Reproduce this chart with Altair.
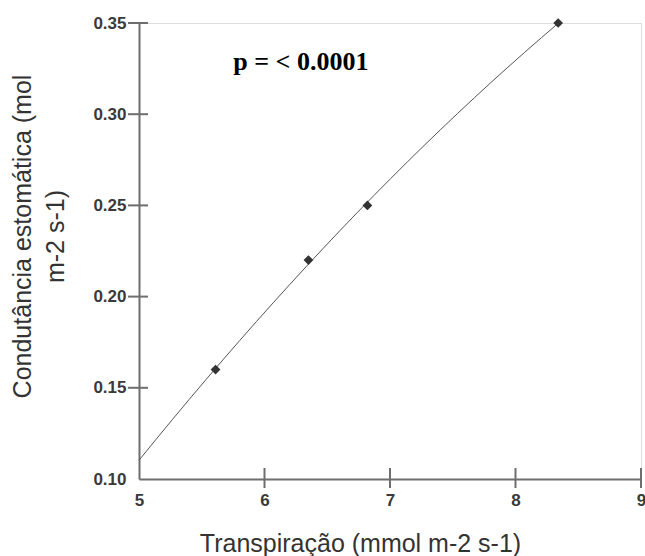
import altair as alt
import pandas as pd

# Measured points: transpiration vs stomatal conductance
transpiracao = [5.61, 6.35, 6.82, 8.34]
condutancia = [0.16, 0.22, 0.25, 0.35]

# Axis ranges and tick positions
x_domain = [5, 9]
y_domain = [0.10, 0.35]
x_tick_values = [5, 6, 7, 8, 9]
y_tick_values = [0.10, 0.15, 0.20, 0.25, 0.30, 0.35]
# Tick marks that are actually drawn (the corner ticks are left out)
x_tick_marks = [6, 7, 8, 9]
y_tick_marks = [0.15, 0.20, 0.25, 0.30, 0.35]

# Significance annotation
annot_text = ["p = < 0.0001"]
annot_x = [6.29]
annot_y = [0.3286]

W, H = 502, 456
AXIS_GRAY = "#6e6e6e"
LABEL_COLOR = "#3a3a3a"

points = pd.DataFrame({"x": transpiracao, "y": condutancia})
xt = pd.DataFrame({"v": x_tick_marks})
yt = pd.DataFrame({"v": y_tick_marks})
annot = pd.DataFrame({"x": annot_x, "y": annot_y, "t": annot_text})

xscale = alt.Scale(domain=x_domain, nice=False, zero=False)
yscale = alt.Scale(domain=y_domain, nice=False, zero=False)

x_axis = alt.Axis(
    values=x_tick_values, format="d", grid=False, ticks=False,
    domainColor=AXIS_GRAY, domainWidth=2,
    labelFont="Liberation Sans", labelFontWeight="bold", labelFontSize=17,
    labelColor=LABEL_COLOR, labelPadding=13, labelFlush=False,
    title="Transpiração (mmol m-2 s-1)",
    titleFont="Liberation Sans", titleFontWeight="normal", titleFontSize=25,
    titleColor="#333333", titleX=221, titleY=72, titleBaseline="alphabetic",
    titleAnchor="start", titleAlign="center",
)
y_axis = alt.Axis(
    values=y_tick_values, format=".2f", grid=False, ticks=False,
    domainColor=AXIS_GRAY, domainWidth=2,
    labelFont="Liberation Sans", labelFontWeight="bold", labelFontSize=17,
    labelColor=LABEL_COLOR, labelPadding=13, labelFlush=False,
    title=["Condutância estomática (mol", "m-2 s-1)"],
    titleFont="Liberation Sans", titleFontWeight="normal", titleFontSize=25,
    titleColor="#333333", titleLineHeight=33, titleAngle=-90,
    titleX=-129, titleY=213, titleBaseline="top", titleAlign="center",
    titleAnchor="start",
)

base = alt.Chart(points)

fit = base.transform_regression(
    "x", "y", method="poly", order=2, extent=[5, 8.34]
).mark_line(color="#555555", strokeWidth=1).encode(
    x=alt.X("x:Q", scale=xscale, axis=x_axis),
    y=alt.Y("y:Q", scale=yscale, axis=y_axis),
)

dots = base.mark_point(shape="diamond", filled=True, size=95, color="#333333", opacity=1).encode(
    x=alt.X("x:Q", scale=xscale),
    y=alt.Y("y:Q", scale=yscale),
)

# Tick marks crossing the axis lines
x_ticks = alt.Chart(xt).mark_rule(color=AXIS_GRAY, strokeWidth=2).encode(
    x=alt.X("v:Q", scale=xscale),
    y=alt.value(H - 11), y2=alt.value(H + 9),
)
y_ticks = alt.Chart(yt).mark_rule(color=AXIS_GRAY, strokeWidth=2).encode(
    y=alt.Y("v:Q", scale=yscale),
    x=alt.value(-11), x2=alt.value(9),
)

label = alt.Chart(annot).mark_text(
    font="Liberation Serif", fontWeight="bold", fontSize=26, color="#000000",
    align="center", baseline="middle",
).encode(
    x=alt.X("x:Q", scale=xscale),
    y=alt.Y("y:Q", scale=yscale),
    text="t:N",
)

chart = alt.layer(fit, x_ticks, y_ticks, dots, label).properties(
    width=W, height=H,
    padding={"left": 139, "top": 23, "right": 4, "bottom": 77},
    autosize=alt.AutoSizeParams(type="none"),
).configure_view(stroke=None).configure(background="white")

chart.save("out.html", embed_options={"renderer": "svg", "actions": False})
